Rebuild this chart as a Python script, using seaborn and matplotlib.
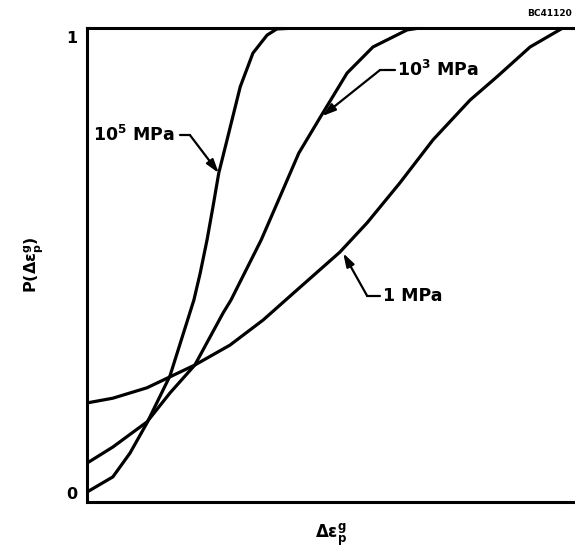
import pandas as pd
import seaborn as sns
import matplotlib.pyplot as plt

sns.set_style("white")
plt.rcParams["font.family"] = ["DejaVu Sans"]
plt.rcParams["mathtext.fontset"] = "dejavusans"
plt.rcParams["text.color"] = "black"
plt.rcParams["axes.labelcolor"] = "black"
plt.rcParams["ytick.color"] = "black"

# curve data (x in arbitrary strain units 0-100, y = probability)
x_1e5 = [0, 5.3, 8.8, 12.3, 17.0, 21.9, 23.2, 24.6, 25.8, 27.0, 28.7, 31.4, 34.0, 36.9, 38.9, 43.0]
y_1e5 = [0.021, 0.053, 0.103, 0.167, 0.266, 0.426, 0.483, 0.553, 0.622, 0.694, 0.764, 0.876, 0.947, 0.985, 0.998, 1.0]

x_1e3 = [0, 5.3, 12.3, 17.0, 22.1, 27.9, 29.5, 35.7, 39.5, 43.4, 47.7, 53.3, 58.6, 65.6, 68.2]
y_1e3 = [0.082, 0.116, 0.169, 0.230, 0.289, 0.399, 0.426, 0.553, 0.643, 0.736, 0.810, 0.905, 0.960, 0.996, 1.0]

x_1 = [0, 5.3, 12.3, 17.0, 22.1, 29.3, 36.1, 43.0, 51.8, 57.4, 64.1, 70.9, 78.5, 84.0, 90.8, 97.5, 100]
y_1 = [0.209, 0.219, 0.241, 0.264, 0.289, 0.331, 0.384, 0.447, 0.527, 0.589, 0.673, 0.764, 0.848, 0.897, 0.960, 1.0, 1.0]

curve_names = [r"10$^{\mathbf{5}}$ MPa", r"10$^{\mathbf{3}}$ MPa", "1 MPa"]

df = pd.concat([
    pd.DataFrame({"x": x_1e5, "y": y_1e5, "curve": "1e5"}),
    pd.DataFrame({"x": x_1e3, "y": y_1e3, "curve": "1e3"}),
    pd.DataFrame({"x": x_1, "y": y_1, "curve": "1"}),
])

fig = plt.figure(figsize=(5.75, 5.53), dpi=100)
ax = fig.add_axes([87 / 575, 51 / 553, 488 / 575, 474 / 553])

sns.lineplot(data=df, x="x", y="y", units="curve", estimator=None, sort=False,
             color="black", linewidth=2.3, ax=ax, legend=False)

ax.set_xlim(0, 100)
ax.set_ylim(0, 1)
for side in ["left", "top", "bottom"]:
    ax.spines[side].set_linewidth(2.2)
    ax.spines[side].set_color("black")
ax.spines["right"].set_visible(False)

ax.set_xticks([])
ax.set_yticks([0.02, 0.98])
ax.set_yticklabels(["0", "1"], fontsize=11.5, fontweight="bold")
ax.tick_params(axis="y", length=0, pad=7)

ax.set_xlabel(r"$\mathbf{\Delta\epsilon}_\mathbf{p}^\mathbf{g}$", fontsize=12, labelpad=14)
ax.set_ylabel(r"P($\mathbf{\Delta\epsilon}_\mathbf{p}^\mathbf{g}$)", fontsize=11.5,
              fontweight="bold", labelpad=15)

# curve labels with leader lines: (text x, text y, dash start x, bend x, tip x, tip y)
label_pos = [
    (1.2, 0.774, 19.1, 21.1, 27.0, 0.694),
    (63.5, 0.911, 63.1, 60.0, 48.2, 0.814),
    (60.7, 0.435, 60.0, 57.4, 52.5, 0.525),
]
for name, (tx, ty, dx, bx, px, py) in zip(curve_names, label_pos):
    ax.text(tx, ty, name, fontsize=12.5, fontweight="bold", va="center", ha="left")
    ax.plot([dx, bx], [ty, ty], color="black", linewidth=1.6)
    ax.annotate("", xy=(px, py), xytext=(bx, ty),
                arrowprops=dict(arrowstyle="-|>,head_length=0.8,head_width=0.25",
                                color="black", linewidth=1.6,
                                mutation_scale=10, shrinkA=0, shrinkB=0))

fig.text(572 / 575, 1 - 13 / 553, "BC41120", fontsize=6.5, fontweight="bold",
         va="center", ha="right")

fig.savefig("out.png", dpi=100)
